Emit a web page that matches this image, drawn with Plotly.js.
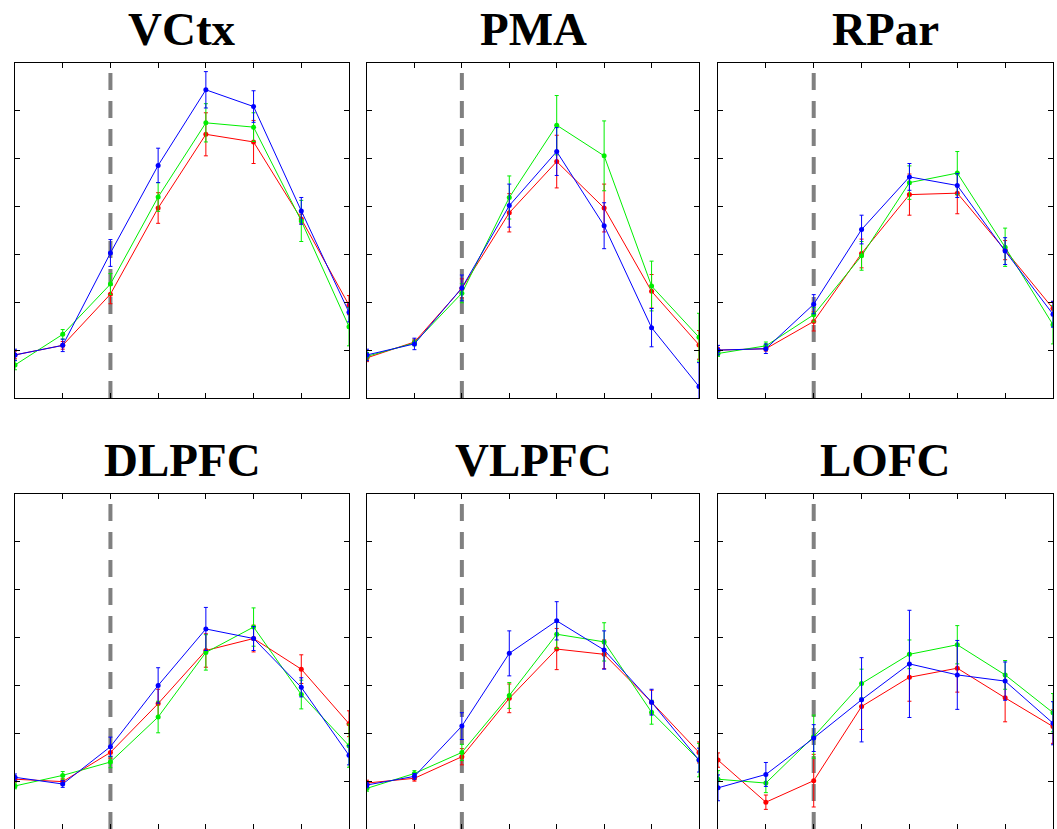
<!DOCTYPE html>
<html>
<head>
<meta charset="utf-8">
<script src="https://cdn.plot.ly/plotly-3.0.1.min.js"></script>
<style>html,body{margin:0;padding:0;background:#fff;}#chart{width:1057px;height:829px;}</style>
</head>
<body>
<div id="chart"></div>
<script>
// Time points (x) and stimulus onset marker
const timePoints = [0, 1, 2, 3, 4, 5, 6, 7];
const onsetX = 2;
const regions = ["VCtx", "PMA", "RPar", "DLPFC", "VLPFC", "LOFC"];

// VCtx
const vctxRed = [0.90, 1.10, 2.17, 3.97, 5.51, 5.35, 3.74, 1.94];
const vctxRedErr = [0.08, 0.08, 0.20, 0.32, 0.45, 0.45, 0.10, 0.20];
const vctxGreen = [0.69, 1.33, 2.38, 4.20, 5.75, 5.66, 3.70, 1.49];
const vctxGreenErr = [0.10, 0.10, 0.22, 0.30, 0.40, 0.30, 0.43, 0.40];
const vctxBlue = [0.90, 1.10, 3.03, 4.86, 6.44, 6.09, 3.91, 1.79];
const vctxBlueErr = [0.12, 0.13, 0.28, 0.36, 0.38, 0.33, 0.28, 0.20];

// PMA
const pmaRed = [0.84, 1.17, 2.29, 3.87, 4.94, 3.97, 2.23, 1.11];
const pmaRedErr = [0.08, 0.06, 0.20, 0.40, 0.55, 0.50, 0.35, 0.30];
const pmaGreen = [0.87, 1.15, 2.19, 4.19, 5.70, 5.06, 2.34, 1.27];
const pmaGreenErr = [0.08, 0.06, 0.20, 0.45, 0.62, 0.73, 0.52, 0.50];
const pmaBlue = [0.90, 1.13, 2.30, 4.02, 5.15, 3.60, 1.47, 0.24];
const pmaBlueErr = [0.12, 0.12, 0.27, 0.45, 0.50, 0.48, 0.40, 0.50];

// RPar
const rparRed = [1.00, 1.03, 1.60, 3.02, 4.25, 4.28, 3.09, 1.87];
const rparRedErr = [0.05, 0.05, 0.20, 0.30, 0.43, 0.43, 0.20, 0.15];
const rparGreen = [0.93, 1.09, 1.74, 2.97, 4.50, 4.70, 3.15, 1.53];
const rparGreenErr = [0.06, 0.08, 0.15, 0.30, 0.35, 0.45, 0.40, 0.40];
const rparBlue = [1.00, 1.03, 1.96, 3.52, 4.62, 4.44, 3.07, 1.75];
const rparBlueErr = [0.10, 0.10, 0.20, 0.30, 0.28, 0.25, 0.28, 0.27];

// DLPFC
const dlpfcRed = [1.04, 0.99, 1.60, 2.62, 3.73, 3.98, 3.34, 2.20];
const dlpfcRedErr = [0.06, 0.06, 0.12, 0.30, 0.35, 0.28, 0.30, 0.27];
const dlpfcGreen = [0.90, 1.12, 1.40, 2.34, 3.69, 4.22, 2.81, 1.74];
const dlpfcGreenErr = [0.06, 0.08, 0.12, 0.33, 0.37, 0.40, 0.30, 0.45];
const dlpfcBlue = [1.08, 0.94, 1.72, 3.00, 4.18, 3.98, 2.96, 1.54];
const dlpfcBlueErr = [0.07, 0.07, 0.20, 0.37, 0.45, 0.25, 0.20, 0.20];

// VLPFC
const vlpfcRed = [0.96, 1.06, 1.51, 2.73, 3.76, 3.65, 2.65, 1.60];
const vlpfcRedErr = [0.06, 0.06, 0.17, 0.30, 0.43, 0.30, 0.25, 0.22];
const vlpfcGreen = [0.85, 1.16, 1.60, 2.79, 4.07, 3.91, 2.44, 1.44];
const vlpfcGreenErr = [0.06, 0.06, 0.17, 0.27, 0.30, 0.40, 0.25, 0.35];
const vlpfcBlue = [0.92, 1.10, 2.15, 3.67, 4.35, 3.74, 2.65, 1.44];
const vlpfcBlueErr = [0.06, 0.06, 0.28, 0.47, 0.40, 0.40, 0.27, 0.25];

// LOFC
const lofcRed = [1.44, 0.56, 1.01, 2.56, 3.17, 3.36, 2.74, 2.14];
const lofcRedErr = [0.15, 0.15, 0.55, 0.48, 0.50, 0.50, 0.50, 0.35];
const lofcGreen = [1.04, 0.96, 1.93, 3.04, 3.65, 3.85, 3.22, 2.43];
const lofcGreenErr = [0.18, 0.20, 0.45, 0.30, 0.30, 0.40, 0.30, 0.40];
const lofcBlue = [0.86, 1.14, 1.90, 2.70, 3.45, 3.22, 3.09, 2.21];
const lofcBlueErr = [0.27, 0.25, 0.28, 0.88, 1.12, 0.72, 0.40, 0.45];

const seriesByRegion = [
  [[vctxRed, vctxRedErr], [vctxGreen, vctxGreenErr], [vctxBlue, vctxBlueErr]],
  [[pmaRed, pmaRedErr], [pmaGreen, pmaGreenErr], [pmaBlue, pmaBlueErr]],
  [[rparRed, rparRedErr], [rparGreen, rparGreenErr], [rparBlue, rparBlueErr]],
  [[dlpfcRed, dlpfcRedErr], [dlpfcGreen, dlpfcGreenErr], [dlpfcBlue, dlpfcBlueErr]],
  [[vlpfcRed, vlpfcRedErr], [vlpfcGreen, vlpfcGreenErr], [vlpfcBlue, vlpfcBlueErr]],
  [[lofcRed, lofcRedErr], [lofcGreen, lofcGreenErr], [lofcBlue, lofcBlueErr]]
];
const seriesColors = ["#ff0000", "#00ee00", "#0000ff"];

const W = 1057, H = 829;
const colPx = [[15, 349], [367, 699], [718, 1053]];
const rowPx = [[63, 398], [494, 829]];

const traces = [];
const layout = {
  width: W, height: H,
  margin: {l: 0, r: 0, t: 0, b: 0},
  paper_bgcolor: "#ffffff", plot_bgcolor: "#ffffff",
  showlegend: false,
  shapes: [], annotations: []
};

regions.forEach((name, i) => {
  const r = Math.floor(i / 3), c = i % 3;
  const n = i + 1;
  const xa = "x" + (n === 1 ? "" : n), ya = "y" + (n === 1 ? "" : n);
  const xk = "xaxis" + (n === 1 ? "" : n), yk = "yaxis" + (n === 1 ? "" : n);
  const axCommon = {
    showline: true, linecolor: "#000", linewidth: 1, mirror: "ticks",
    ticks: "inside", ticklen: 5, tickwidth: 1, tickcolor: "#000",
    showticklabels: false, showgrid: false, zeroline: false, dtick: 1, tick0: 0,
    fixedrange: true
  };
  layout[xk] = Object.assign({}, axCommon, {
    domain: [colPx[c][0] / W, colPx[c][1] / W], range: [0, 7], anchor: ya
  });
  layout[yk] = Object.assign({}, axCommon, {
    domain: [1 - rowPx[r][1] / H, 1 - rowPx[r][0] / H], range: [0, 7], anchor: xa
  });
  layout.shapes.push({
    type: "line", xref: xa, yref: ya, x0: onsetX, x1: onsetX, y0: 0, y1: 7,
    line: {color: "#808080", width: 4, dash: "17px,11px"}, layer: "below"
  });
  layout.annotations.push({
    text: "<b>" + name + "</b>", xref: xa + " domain", yref: ya + " domain",
    x: 0.5, y: 1, xanchor: "center", yanchor: "bottom", yshift: 6, showarrow: false,
    font: {family: "Liberation Serif, Times New Roman, serif", size: 47, color: "#000"}
  });
  seriesByRegion[i].forEach((s, k) => {
    traces.push({
      type: "scatter", mode: "lines+markers", x: timePoints, y: s[0],
      xaxis: xa, yaxis: ya, cliponaxis: true,
      line: {color: seriesColors[k], width: 1},
      marker: {color: seriesColors[k], size: 5},
      error_y: {type: "data", array: s[1], visible: true, color: seriesColors[k], thickness: 1, width: 2}
    });
  });
});

Plotly.newPlot("chart", traces, layout, {staticPlot: true});
</script>
</body>
</html>
